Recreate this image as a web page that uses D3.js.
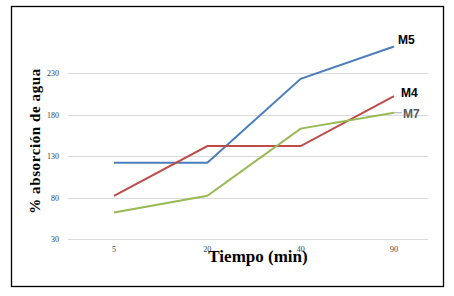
<!DOCTYPE html>
<html>
<head>
<meta charset="utf-8">
<script src="https://cdn.jsdelivr.net/npm/d3@7"></script>
<style>
  body { margin: 0; background: #fff; }
</style>
</head>
<body>
<div id="chart"></div>
<script>
const tiempos = ["5", "20", "40", "90"];
const yTicks = [30, 80, 130, 180, 230];
const m5 = [122, 122, 223, 262];
const m4 = [82, 142, 142, 202];
const m7 = [62, 82, 163, 182];

const series = [
  {name: "M5", values: m5, color: "#4a7ebb", labelColor: "#000", dx: 4, dy: -2},
  {name: "M4", values: m4, color: "#be4b48", labelColor: "#000", dx: 7, dy: 1},
  {name: "M7", values: m7, color: "#98b954", labelColor: "#595959", dx: 9, dy: 5}
];

const width = 454, height = 296;

const svg = d3.select("#chart")
  .append("svg")
    .attr("width", width)
    .attr("height", height);

// outer frame
svg.append("rect")
  .attr("x", 11.5).attr("y", 6.5)
  .attr("width", 432).attr("height", 280)
  .attr("fill", "none")
  .attr("stroke", "#000")
  .attr("stroke-width", 1.3);

const x = d3.scalePoint()
  .domain(tiempos)
  .range([114, 394]);

const y = d3.scaleLinear()
  .domain([30, 230])
  .range([239, 73]);

// gridlines
svg.append("g")
  .selectAll("line")
  .data(yTicks)
  .join("line")
    .attr("x1", 68).attr("x2", 428)
    .attr("y1", d => Math.round(y(d)) + 0.5)
    .attr("y2", d => Math.round(y(d)) + 0.5)
    .attr("stroke", "#d9d9d9");

// y tick labels
svg.append("g")
  .selectAll("text")
  .data(yTicks)
  .join("text")
    .attr("x", 59)
    .attr("y", d => y(d) + 3)
    .attr("text-anchor", "end")
    .style("font-family", "Liberation Serif, serif")
    .style("font-size", "8px")
    .attr("fill", "#404040")
    .text(d => d);

// x tick labels
svg.append("g")
  .selectAll("text")
  .data(tiempos)
  .join("text")
    .attr("x", d => x(d))
    .attr("y", 252)
    .attr("text-anchor", "middle")
    .style("font-family", "Liberation Serif, serif")
    .style("font-size", "8px")
    .attr("fill", "#404040")
    .text(d => d);

// lines
const line = d3.line()
  .x((d, i) => x(tiempos[i]))
  .y(d => y(d));

svg.append("g")
  .selectAll("path")
  .data(series)
  .join("path")
    .attr("d", d => line(d.values))
    .attr("fill", "none")
    .attr("stroke", d => d.color)
    .attr("stroke-width", 2);

// M7 leader line
svg.append("line")
  .attr("x1", x("90")).attr("x2", x("90") + 8)
  .attr("y1", y(m7[3])).attr("y2", y(m7[3]))
  .attr("stroke", "#a6a6a6");

// series labels
svg.append("g")
  .selectAll("text")
  .data(series)
  .join("text")
    .attr("x", d => x("90") + d.dx)
    .attr("y", d => y(d.values[3]) + d.dy)
    .style("font-family", "Liberation Sans, Arial, sans-serif")
    .style("font-size", "12px")
    .style("font-weight", "bold")
    .attr("fill", d => d.labelColor)
    .text(d => d.name);

// axis titles
svg.append("text")
  .attr("x", 258)
  .attr("y", 262)
  .attr("text-anchor", "middle")
  .style("font-family", "Liberation Serif, serif")
  .style("font-size", "17px")
  .style("font-weight", "bold")
  .text("Tiempo (min)");

svg.append("text")
  .attr("transform", "translate(40,141) rotate(-90)")
  .attr("text-anchor", "middle")
  .style("font-family", "Liberation Serif, serif")
  .style("font-size", "15px")
  .style("font-weight", "bold")
  .style("letter-spacing", "0.6px")
  .text("% absorción de agua");
</script>
</body>
</html>
